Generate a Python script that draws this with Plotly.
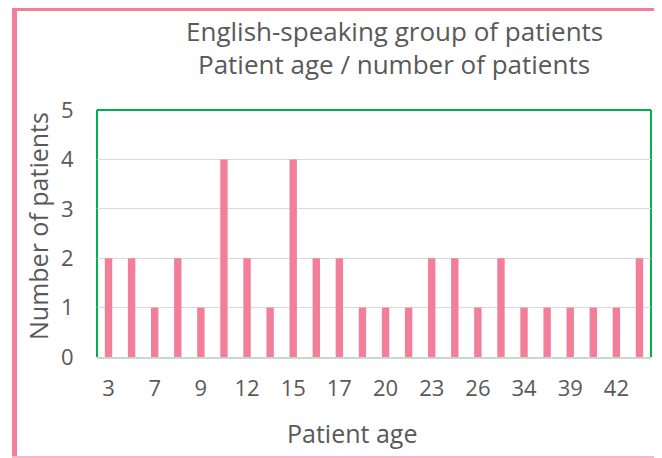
import plotly.graph_objects as go

# Patient ages (categories); only every other label is shown on the axis
ages = ["3", "5", "7", "8", "9", "10", "12", "13", "15", "16", "17", "18",
        "20", "21", "23", "24", "26", "30", "34", "37", "39", "40", "42", "44"]
patients = [2, 2, 1, 2, 1, 4, 2, 1, 4, 2, 2, 1,
            1, 1, 2, 2, 1, 2, 1, 1, 1, 1, 1, 2]
shown_ticks = ages[::2]
y_ticks = [0, 1, 2, 3, 4, 5]

OFF = 8  # page body margin
W, H = 654, 450
L, R, T, B = 89, 11, 102, 101
PW, PH = W - L - R, H - T - B

def px(x):  # page pixel x -> paper
    return (x - OFF - L) / PW

def py(y):  # page pixel y -> paper
    return (H - B - (y - OFF)) / PH

TXT = "#595959"
FONT = "Open Sans"
PINK = "#F27E99"
GREEN = "#00B050"

fig = go.Figure(go.Bar(x=ages, y=patients, marker=dict(color=PINK, line=dict(width=0))))

def pline(x0, y0, x1, y1, color, width):
    return dict(type="line", xref="paper", yref="paper", x0=x0, y0=y0, x1=x1, y1=y1,
                line=dict(color=color, width=width), layer="below")

fig.update_layout(
    width=W, height=H,
    margin=dict(l=L, r=R, t=T, b=B),
    paper_bgcolor="white", plot_bgcolor="white",
    bargap=0.68,
    showlegend=False,
    font=dict(family=FONT, color=TXT),
    xaxis=dict(type="category", categoryorder="array", categoryarray=ages,
               tickmode="array", tickvals=shown_ticks, ticktext=shown_ticks,
               tickfont=dict(size=22, color=TXT, family=FONT),
               ticks="outside", ticklen=11, tickcolor="rgba(0,0,0,0)",
               showline=True, linecolor="#C5D9CE", linewidth=2,
               showgrid=False, fixedrange=True),
    yaxis=dict(range=[0, 5], tickmode="array", tickvals=y_ticks,
               tickfont=dict(size=22, color=TXT, family=FONT),
               ticks="outside", ticklen=18, tickcolor="rgba(0,0,0,0)",
               showgrid=True, gridcolor="#D9D9D9", gridwidth=1,
               zeroline=False, showline=False, fixedrange=True),
    shapes=[
        # plot area border: green on left, top, right
        pline(0, 0, 0, 1, GREEN, 2),
        pline(0, 1, 1, 1, GREEN, 2),
        pline(1, 0, 1, 1, GREEN, 2),
        # outer pink frame
        dict(type="line", xref="paper", yref="paper", x0=px(14.5), x1=px(14.5), y0=py(7), y1=py(460),
             line=dict(color=PINK, width=5)),
        dict(type="line", xref="paper", yref="paper", x0=px(12), x1=px(670), y0=py(9), y1=py(9),
             line=dict(color=PINK, width=4)),
        dict(type="line", xref="paper", yref="paper", x0=px(12), x1=px(670), y0=py(457), y1=py(457),
             line=dict(color="#F7B8C7", width=2)),
    ],
    annotations=[
        dict(text="English-speaking group of patients", xref="paper", yref="paper",
             x=px(394), y=py(31), xanchor="center", yanchor="middle", showarrow=False,
             font=dict(size=26, color=TXT, family=FONT)),
        dict(text="Patient age / number of patients", xref="paper", yref="paper",
             x=px(394), y=py(64), xanchor="center", yanchor="middle", showarrow=False,
             font=dict(size=26, color=TXT, family=FONT)),
        dict(text="Number of patients", xref="paper", yref="paper",
             x=px(38), y=py(226), xanchor="center", yanchor="middle", showarrow=False,
             textangle=-90, font=dict(size=25, color=TXT, family=FONT)),
        dict(text="Patient age", xref="paper", yref="paper",
             x=px(352), y=py(433), xanchor="center", yanchor="middle", showarrow=False,
             font=dict(size=25, color=TXT, family=FONT)),
    ],
)

fig.write_html("out.html")
